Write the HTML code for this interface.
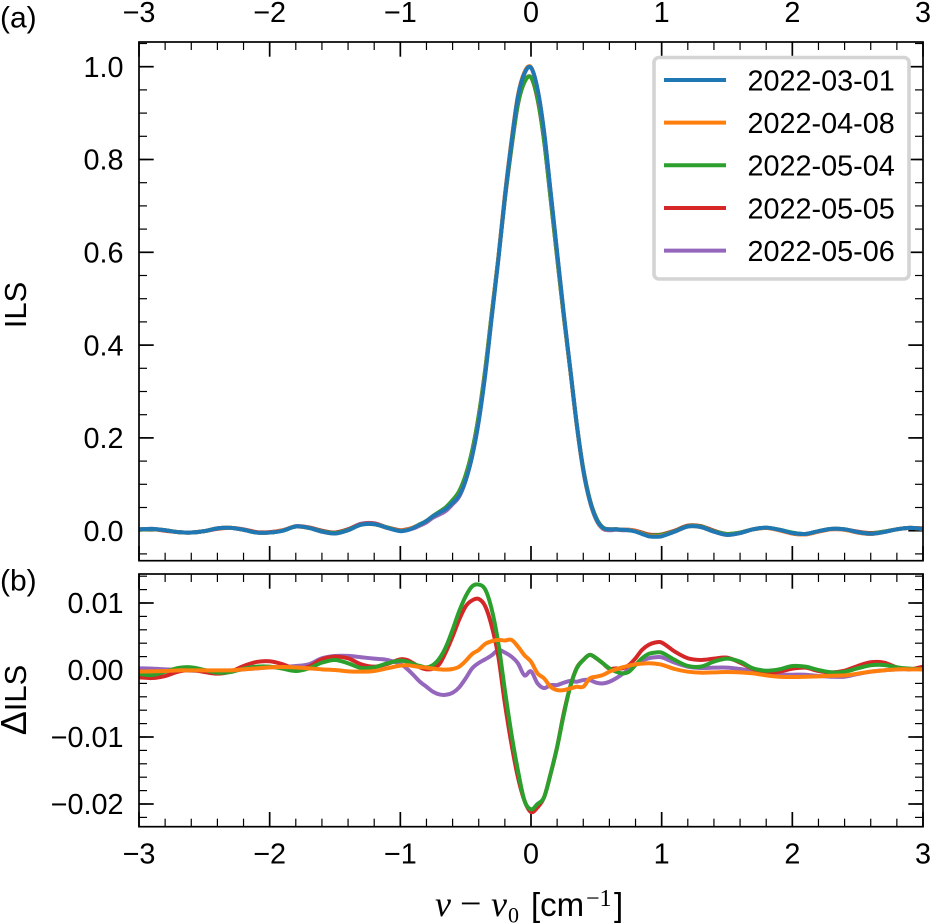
<!DOCTYPE html>
<html lang="en">
<head>
<meta charset="utf-8">
<title>ILS comparison chart</title>
<style>
html,body{margin:0;padding:0;background:#fff;}
svg{display:block;font-family:"Liberation Sans",Arial,sans-serif;}
</style>
</head>
<body>
<svg id="chart" width="930" height="924" viewBox="0 0 930 924" xmlns="http://www.w3.org/2000/svg">
<defs>
<clipPath id="clip-top"><rect x="139" y="42" width="784" height="518.7"/></clipPath>
<clipPath id="clip-bot"><rect x="139" y="574" width="784" height="252.7"/></clipPath>
</defs>
<g id="top-ticks"></g>
<g id="bot-ticks"></g>
<g id="top-lines" clip-path="url(#clip-top)"></g>
<g id="bot-lines" clip-path="url(#clip-bot)"></g>
<rect x="139" y="42" width="784" height="518.7" fill="none" stroke="#000" stroke-width="1.7"/>
<rect x="139" y="574" width="784" height="252.7" fill="none" stroke="#000" stroke-width="1.7"/>
<g id="labels" font-size="28.8" fill="#000"></g>
<text x="0" y="27.5" font-size="30">(a)</text>
<text x="0" y="590.5" font-size="30">(b)</text>
<text transform="translate(26,305) rotate(-90)" text-anchor="middle" font-size="31">ILS</text>
<text transform="translate(26,700) rotate(-90)" text-anchor="middle" font-size="31"><tspan font-size="36">Δ</tspan>ILS</text>
<text y="916" font-size="33"><tspan x="435" font-size="36" font-family="Liberation Serif,serif" font-style="italic">ν</tspan><tspan x="460" font-size="38" font-family="Liberation Serif,serif">−</tspan><tspan x="491" font-size="36" font-family="Liberation Serif,serif" font-style="italic">ν</tspan><tspan x="508" y="922.5" font-size="22" font-family="Liberation Serif,serif">0</tspan><tspan x="531" y="916">[cm</tspan><tspan x="586" y="906" font-size="24" font-family="Liberation Serif,serif">−1</tspan><tspan x="614" y="916">]</tspan></text>
<g id="legend">
<rect x="654" y="57.5" width="255" height="221.5" rx="5" ry="5" fill="#fff" fill-opacity="0.8" stroke="#d4d4d4" stroke-width="3.6"/>
</g>
</svg>
<script>
const xValues = [-3,-2.9,-2.8,-2.7,-2.6,-2.5,-2.4,-2.3,-2.2,-2.1,-2,-1.9,-1.8,-1.7,-1.6,-1.5,-1.4,-1.3,-1.2,-1.1,-1,
-0.95,-0.9,-0.85,-0.8,-0.75,-0.7,-0.65,-0.6,-0.55,-0.5,-0.45,-0.4,-0.35,-0.3,-0.25,-0.2,-0.15,-0.1,-0.05,0,
0.05,0.1,0.15,0.2,0.25,0.3,0.35,0.4,0.45,0.5,0.55,0.6,0.65,0.7,0.75,0.8,0.85,0.9,0.95,1,
1.1,1.2,1.3,1.4,1.5,1.6,1.7,1.8,1.9,2,2.1,2.2,2.3,2.4,2.5,2.6,2.7,2.8,2.9,3];

const seriesNames = ["2022-03-01","2022-04-08","2022-05-04","2022-05-05","2022-05-06"];
const seriesColors = ["#1f77b4","#ff7f0e","#2ca02c","#d62728","#9467bd"];

const ils20220301 = [.003,.004,.001,-.003,-.004,-.001,.005,.006,.002,-.004,-.004,0,.009,.006,-.002,-.006,.001,.013,.014,.006,-.001,
.001,.006,.013,.021,.031,.039,.047,.060,.076,.109,.161,.236,.337,.461,.584,.719,.835,.935,.986,.998,
.952,.86,.731,.600,.47,.35,.23,.131,.065,.025,.006,.003,.003,.002,.001,-.002,-.007,-.012,-.013,-.012,
-.002,.009,.008,-.002,-.009,-.005,.003,.0065,.002,-.005,-.007,-.001,.004,.003,-.003,-.0065,-.003,.003,.006,.004];
const ils20220408 = [.003,.004,.001,-.003,-.004,-.001,.005,.006,.002,-.004,-.004,.001,.009,.006,-.002,-.006,.001,.013,.014,.006,0,
.002,.007,.013,.021,.031,.039,.047,.060,.077,.110,.163,.239,.341,.465,.588,.723,.839,.938,.988,.999,
.951,.859,.729,.597,.467,.347,.228,.129,.064,.024,.005,.003,.003,.002,.002,-.001,-.006,-.011,-.012,-.011,
-.002,.009,.008,-.002,-.009,-.005,.003,.006,.001,-.006,-.008,-.002,.003,.002,-.004,-.007,-.003,.003,.006,.004];
const ils20220504 = [.002,.003,.001,-.003,-.004,-.001,.005,.006,.002,-.004,-.004,0,.009,.006,-.001,-.005,.002,.013,.014,.007,0,
.002,.007,.014,.021,.032,.041,.051,.066,.085,.120,.173,.249,.349,.470,.588,.716,.826,.920,.967,.977,
.932,.841,.716,.589,.463,.348,.230,.133,.067,.027,.007,.003,.003,.002,.001,-.001,-.005,-.010,-.010,-.009,
-.001,.010,.009,-.001,-.007,-.004,.003,.006,.002,-.004,-.007,-.001,.004,.003,-.003,-.006,-.002,.003,.006,.004];
const ils20220505 = [.002,.003,0,-.003,-.004,-.001,.004,.006,.003,-.003,-.003,.001,.009,.007,0,-.004,.003,.014,.015,.007,.001,
.003,.007,.013,.021,.031,.040,.050,.065,.084,.118,.171,.247,.347,.468,.586,.714,.824,.919,.967,.977,
.930,.841,.716,.589,.464,.348,.230,.133,.067,.027,.007,.003,.003,.002,.002,0,-.004,-.008,-.009,-.008,
0,.011,.010,0,-.007,-.004,.003,.006,.002,-.005,-.007,-.001,.004,.003,-.002,-.005,-.002,.003,.006,.005];
const ils20220506 = [.003,.004,.001,-.003,-.004,-.001,.005,.006,.002,-.004,-.004,0,.010,.007,0,-.004,.003,.015,.016,.007,0,
.001,.005,.011,.018,.028,.035,.043,.057,.073,.108,.161,.237,.339,.463,.587,.722,.837,.936,.985,.998,
.950,.857,.729,.598,.468,.348,.228,.130,.064,.023,.004,.001,.002,.001,.001,-.001,-.006,-.010,-.011,-.010,
-.001,.010,.008,-.002,-.009,-.005,.003,.006,.001,-.006,-.008,-.002,.003,.002,-.004,-.007,-.003,.003,.006,.004];

const delta20220408 = [-.00025,-.0002,-.00015,-.00005,-.00005,-.00005,-.00005,-.00005,.0001,.00025,.0004,.00045,.0004,.00025,.0001,0,-.0002,-.00025,-.00015,.00025,.00065,
.0007,.0006,.00045,.00035,.0002,.0001,.00005,.00015,.0005,.00135,.0024,.003,.0039,.0043,.0045,.0044,.0045,.0035,.0022,.00125,
-.0005,-.00125,-.0025,-.003,-.003,-.00275,-.0025,-.0025,-.00125,-.001,-.00075,-.00025,.0001,.0004,.00065,.00085,.00095,.001,.00095,.0008,
.00015,-.00025,-.0004,-.00035,-.0003,-.00035,-.0005,-.0008,-.001,-.00105,-.001,-.00095,-.00085,-.0008,-.00055,-.00025,-.00005,.0001,.0001,.0001];
const delta20220504 = [-.0006,-.00075,-.00025,.0003,.0004,0,-.0004,-.0003,.0002,.0005,.0005,.0002,-.00015,.00025,.0011,.0015,.001,.0003,.0004,.001,.0014,
.00125,.0009,.0006,.0004,.00075,.00175,.0035,.006,.00875,.011,.0125,.01275,.012,.009,.004,-.003,-.0095,-.015,-.0195,-.0208,
-.02,-.019,-.0155,-.0115,-.00675,-.0025,.00025,.0015,.00225,.00175,.001,.00025,-.00025,-.0005,-.00025,.00075,.00175,.0024,.0026,.0026,
.0015,.0006,.0005,.00125,.0017,.00125,.00025,-.0001,.0001,.0006,.0005,0,-.00035,-.00025,.00025,.0007,.00075,.0004,.0002,.0001];
const delta20220505 = [-.0011,-.0012,-.0009,-.00025,0,-.0003,-.00055,-.00025,.0006,.0012,.0013,.00085,.00015,.0005,.0016,.002,.00175,.00085,.0005,.0009,.0016,
.0015,.001,.0004,.0001,.0002,.0009,.00275,.005,.0075,.0095,.0104,.0106,.0095,.0065,.002,-.005,-.011,-.016,-.0195,-.0212,
-.0205,-.019,-.0155,-.0115,-.0065,-.0025,.0003,.0015,.00225,.00175,.001,.0002,.00025,.00025,.00075,.00175,.003,.00375,.0041,.0041,
.00275,.00175,.0015,.0017,.00185,.0011,.00015,-.0004,-.00025,.0002,.00035,-.00015,-.00035,-.0001,.0006,.00115,.0011,.0004,.0001,.0005];
const delta20220506 = [.00025,.0002,.0001,0,-.0001,-.00015,-.00025,-.00015,.0001,.00025,.0004,.00045,.0006,.00085,.00175,.0021,.0021,.0019,.0017,.0015,.0009,
.0002,-.00075,-.00175,-.0025,-.00325,-.00365,-.0037,-.0034,-.0026,-.00125,.00025,.00105,.0016,.0022,.003,.0026,.002,.001,-.0008,-.0002,
-.002,-.0027,-.00225,-.00225,-.0019,-.00165,-.00175,-.0015,-.0015,-.0019,-.002,-.00175,-.00125,-.0006,.0001,.00075,.0014,.00175,.0019,.0019,
.0011,.0005,.0003,.00035,.00035,.00015,-.00015,-.0005,-.0007,-.0007,-.0007,-.0009,-.001,-.001,-.0006,-.00025,-.00005,.0001,.00015,.00015];

const xTickLabels = ["−3","−2","−1","0","1","2","3"];
const xTickValues = [-3,-2,-1,0,1,2,3];
const topYTickValues = [0,0.2,0.4,0.6,0.8,1];
const topYTickLabels = ["0.0","0.2","0.4","0.6","0.8","1.0"];
const botYTickValues = [0.01,0,-0.01,-0.02];
const botYTickLabels = ["0.01","0.00","−0.01","−0.02"];

const NS = "http://www.w3.org/2000/svg";
function sx(v){ return 531 + 130.667 * v; }
function syTop(v){ return 530.7 - 464 * v; }
function syBot(v){ return 670 - 6700 * v; }

function smoothPath(xs, ys, fx, fy){
  const p = xs.map(function(x, i){ return [fx(x), fy(ys[i])]; });
  let d = "M" + p[0][0].toFixed(2) + " " + p[0][1].toFixed(2);
  for (let i = 0; i < p.length - 1; i++) {
    const a = p[Math.max(i - 1, 0)], b = p[i], c = p[i + 1], e = p[Math.min(i + 2, p.length - 1)];
    const h = c[0] - b[0];
    const m1 = (c[1] - a[1]) / ((c[0] - a[0]) || 1);
    const m2 = (e[1] - b[1]) / ((e[0] - b[0]) || 1);
    d += "C" + (b[0] + h / 3).toFixed(2) + " " + (b[1] + m1 * h / 3).toFixed(2) + " " +
         (c[0] - h / 3).toFixed(2) + " " + (c[1] - m2 * h / 3).toFixed(2) + " " +
         c[0].toFixed(2) + " " + c[1].toFixed(2);
  }
  return d;
}

function addCurve(parentId, ys, fy, color, label){
  const el = document.createElementNS(NS, "path");
  
  
  el.setAttribute("d", smoothPath(xValues, ys, sx, fy));
  el.setAttribute("fill", "none");
  el.setAttribute("stroke", color);
  el.setAttribute("stroke-width", "4");
  el.setAttribute("stroke-linejoin", "round");
  document.getElementById(parentId).appendChild(el);
}

function addTick(parentId, x1, y1, x2, y2, w){
  const el = document.createElementNS(NS, "line");
  
  
  el.setAttribute("x1", x1);
  el.setAttribute("y1", y1);
  el.setAttribute("x2", x2);
  el.setAttribute("y2", y2);
  el.setAttribute("stroke", "#000");
  el.setAttribute("stroke-width", w);
  document.getElementById(parentId).appendChild(el);
}

function addLabel(text, x, y, anchor){
  const el = document.createElementNS(NS, "text");
  
  
  el.setAttribute("x", x);
  el.setAttribute("y", y);
  el.setAttribute("text-anchor", anchor);
  el.textContent = text;
  document.getElementById("labels").appendChild(el);
}

function panelTicks(id, top, bottom, fy, majorY, minorStart, minorStep, minorCount){
  const left = 139, right = 923;
  for (let i = -15; i <= 15; i++) {
    const x = i / 5, major = i % 5 === 0, len = major ? 14.7 : 8, w = major ? 1.7 : 1.2, px = sx(x);
    addTick(id, px, top, px, top + len, w);
    addTick(id, px, bottom, px, bottom - len, w);
  }
  for (let i = 0; i < minorCount; i++) {
    const py = fy(minorStart + i * minorStep);
    addTick(id, left, py, left + 8, py, 1.2);
    addTick(id, right, py, right - 8, py, 1.2);
  }
  majorY.forEach(function(v){
    const py = fy(v);
    addTick(id, left, py, left + 14.7, py, 1.7);
    addTick(id, right, py, right - 14.7, py, 1.7);
  });
}

panelTicks("top-ticks", 42, 560.7, syTop, topYTickValues, -0.05, 0.05, 23);
panelTicks("bot-ticks", 574, 826.7, syBot, botYTickValues, -0.022, 0.002, 19);

xTickValues.forEach(function(v, i){
  addLabel(xTickLabels[i], sx(v), 22, "middle");
  addLabel(xTickLabels[i], sx(v), 863.5, "middle");
});
topYTickValues.forEach(function(v, i){
  addLabel(topYTickLabels[i], 123.5, syTop(v) + 10.2, "end");
});
botYTickValues.forEach(function(v, i){
  addLabel(botYTickLabels[i], 123.5, syBot(v) + 10.2, "end");
});

addCurve("top-lines", ils20220506, syTop, seriesColors[4], "ils-2022-05-06");
addCurve("top-lines", ils20220505, syTop, seriesColors[3], "ils-2022-05-05");
addCurve("top-lines", ils20220504, syTop, seriesColors[2], "ils-2022-05-04");
addCurve("top-lines", ils20220408, syTop, seriesColors[1], "ils-2022-04-08");
addCurve("top-lines", ils20220301, syTop, seriesColors[0], "ils-2022-03-01");

addCurve("bot-lines", delta20220506, syBot, seriesColors[4], "delta-ils-2022-05-06");
addCurve("bot-lines", delta20220505, syBot, seriesColors[3], "delta-ils-2022-05-05");
addCurve("bot-lines", delta20220504, syBot, seriesColors[2], "delta-ils-2022-05-04");
addCurve("bot-lines", delta20220408, syBot, seriesColors[1], "delta-ils-2022-04-08");

seriesNames.forEach(function(name, i){
  const y = 80 + i * 42.65;
  const key = document.createElementNS(NS, "line");
  
  
  key.setAttribute("x1", 664);
  key.setAttribute("x2", 726);
  key.setAttribute("y1", y);
  key.setAttribute("y2", y);
  key.setAttribute("stroke", seriesColors[i]);
  key.setAttribute("stroke-width", "4");
  document.getElementById("legend").appendChild(key);
  const txt = document.createElementNS(NS, "text");
  
  
  txt.setAttribute("x", 747.5);
  txt.setAttribute("y", y + 10.3);
  txt.setAttribute("font-size", "28.8");
  txt.textContent = name;
  document.getElementById("legend").appendChild(txt);
});
</script>
</body>
</html>
